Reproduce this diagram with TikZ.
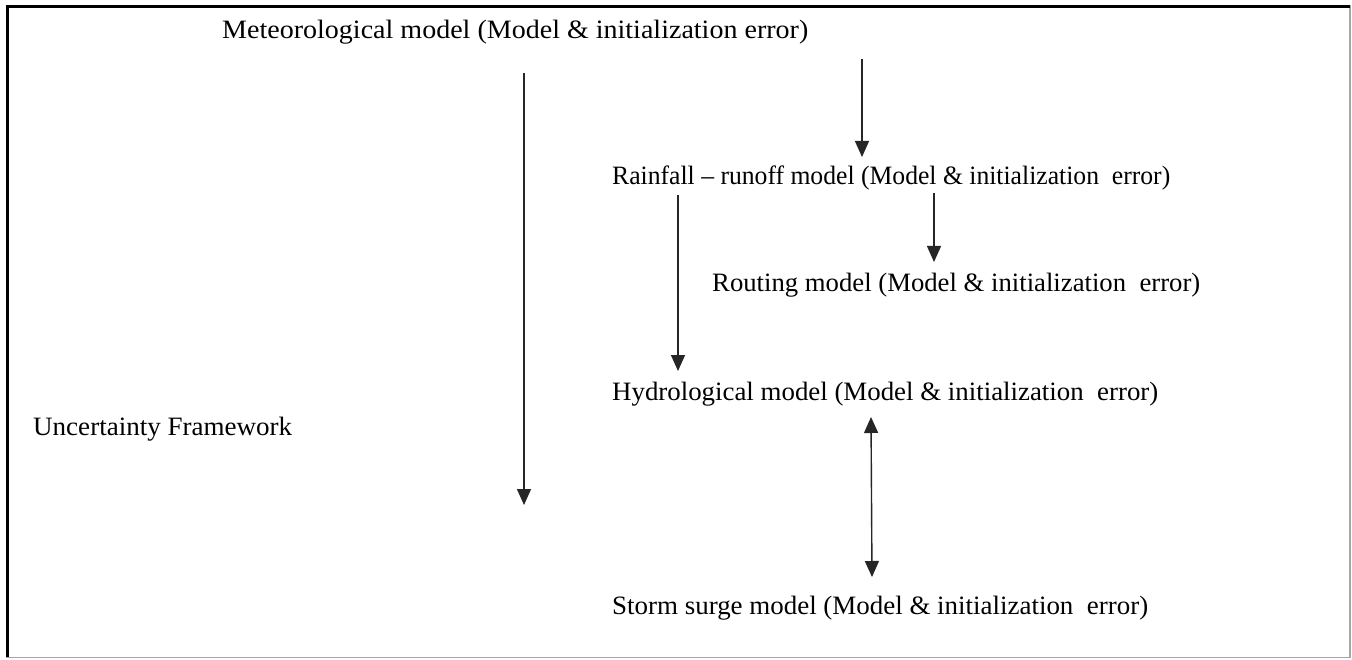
\documentclass[tikz,border=0pt]{standalone}
\usepackage{fontspec}
\setmainfont{Liberation Serif}
\usetikzlibrary{arrows.meta}
\newcommand{\fitw}[2]{\resizebox{#1}{\height}{#2}}
\begin{document}
\begin{tikzpicture}[x=1pt,y=-1pt,
  lbl/.style={anchor=base west,inner sep=0pt,font=\fontsize{26.5}{31}\selectfont},
  arr/.style={line width=1.4pt,draw=black!85,-{Triangle[width=14pt,length=16pt]}},
  darr/.style={line width=1.4pt,draw=black!85,{Triangle[width=14pt,length=16pt]}-{Triangle[width=14pt,length=16pt]}}]
\useasboundingbox (0,0) rectangle (1352,660);
\fill[white] (0,0) rectangle (1352,660);
% frame
\draw[line width=1.5pt,black!35] (1350,5) -- (1350,657.5) -- (6,657.5);
\draw[line width=3pt,black] (7.5,657) -- (7.5,6.5) -- (1350,6.5);
% texts
\node[lbl] (met) at (222,39) {\fitw{586pt}{Meteorological model (Model \& initialization error)}};
\node[lbl] (rain) at (612,185) {\fitw{558pt}{Rainfall -- runoff model (Model \& initialization\ \ error)}};
\node[lbl] (rout) at (712,292) {\fitw{488pt}{Routing model (Model \& initialization\ \ error)}};
\node[lbl] (hyd) at (612,400) {\fitw{546pt}{Hydrological model (Model \& initialization\ \ error)}};
\node[lbl] (unc) at (33,435) {\fitw{259pt}{Uncertainty Framework}};
\node[lbl] (storm) at (612,614) {\fitw{536pt}{Storm surge model (Model \& initialization\ \ error)}};
% arrow endpoints
\coordinate (a1s) at (524,73);  \coordinate (a1e) at (524,505);
\coordinate (a2s) at (862,59);  \coordinate (a2e) at (862,157);
\coordinate (a3s) at (934,193); \coordinate (a3e) at (934,262);
\coordinate (a4s) at (678,195); \coordinate (a4e) at (678,371);
\coordinate (a5s) at (871,417); \coordinate (a5e) at (872,577);
\draw[arr] (a1s) -- (a1e);
\draw[arr] (a2s) -- (a2e);
\draw[arr] (a3s) -- (a3e);
\draw[arr] (a4s) -- (a4e);
\draw[darr] (a5s) -- (a5e);
\end{tikzpicture}
\end{document}
